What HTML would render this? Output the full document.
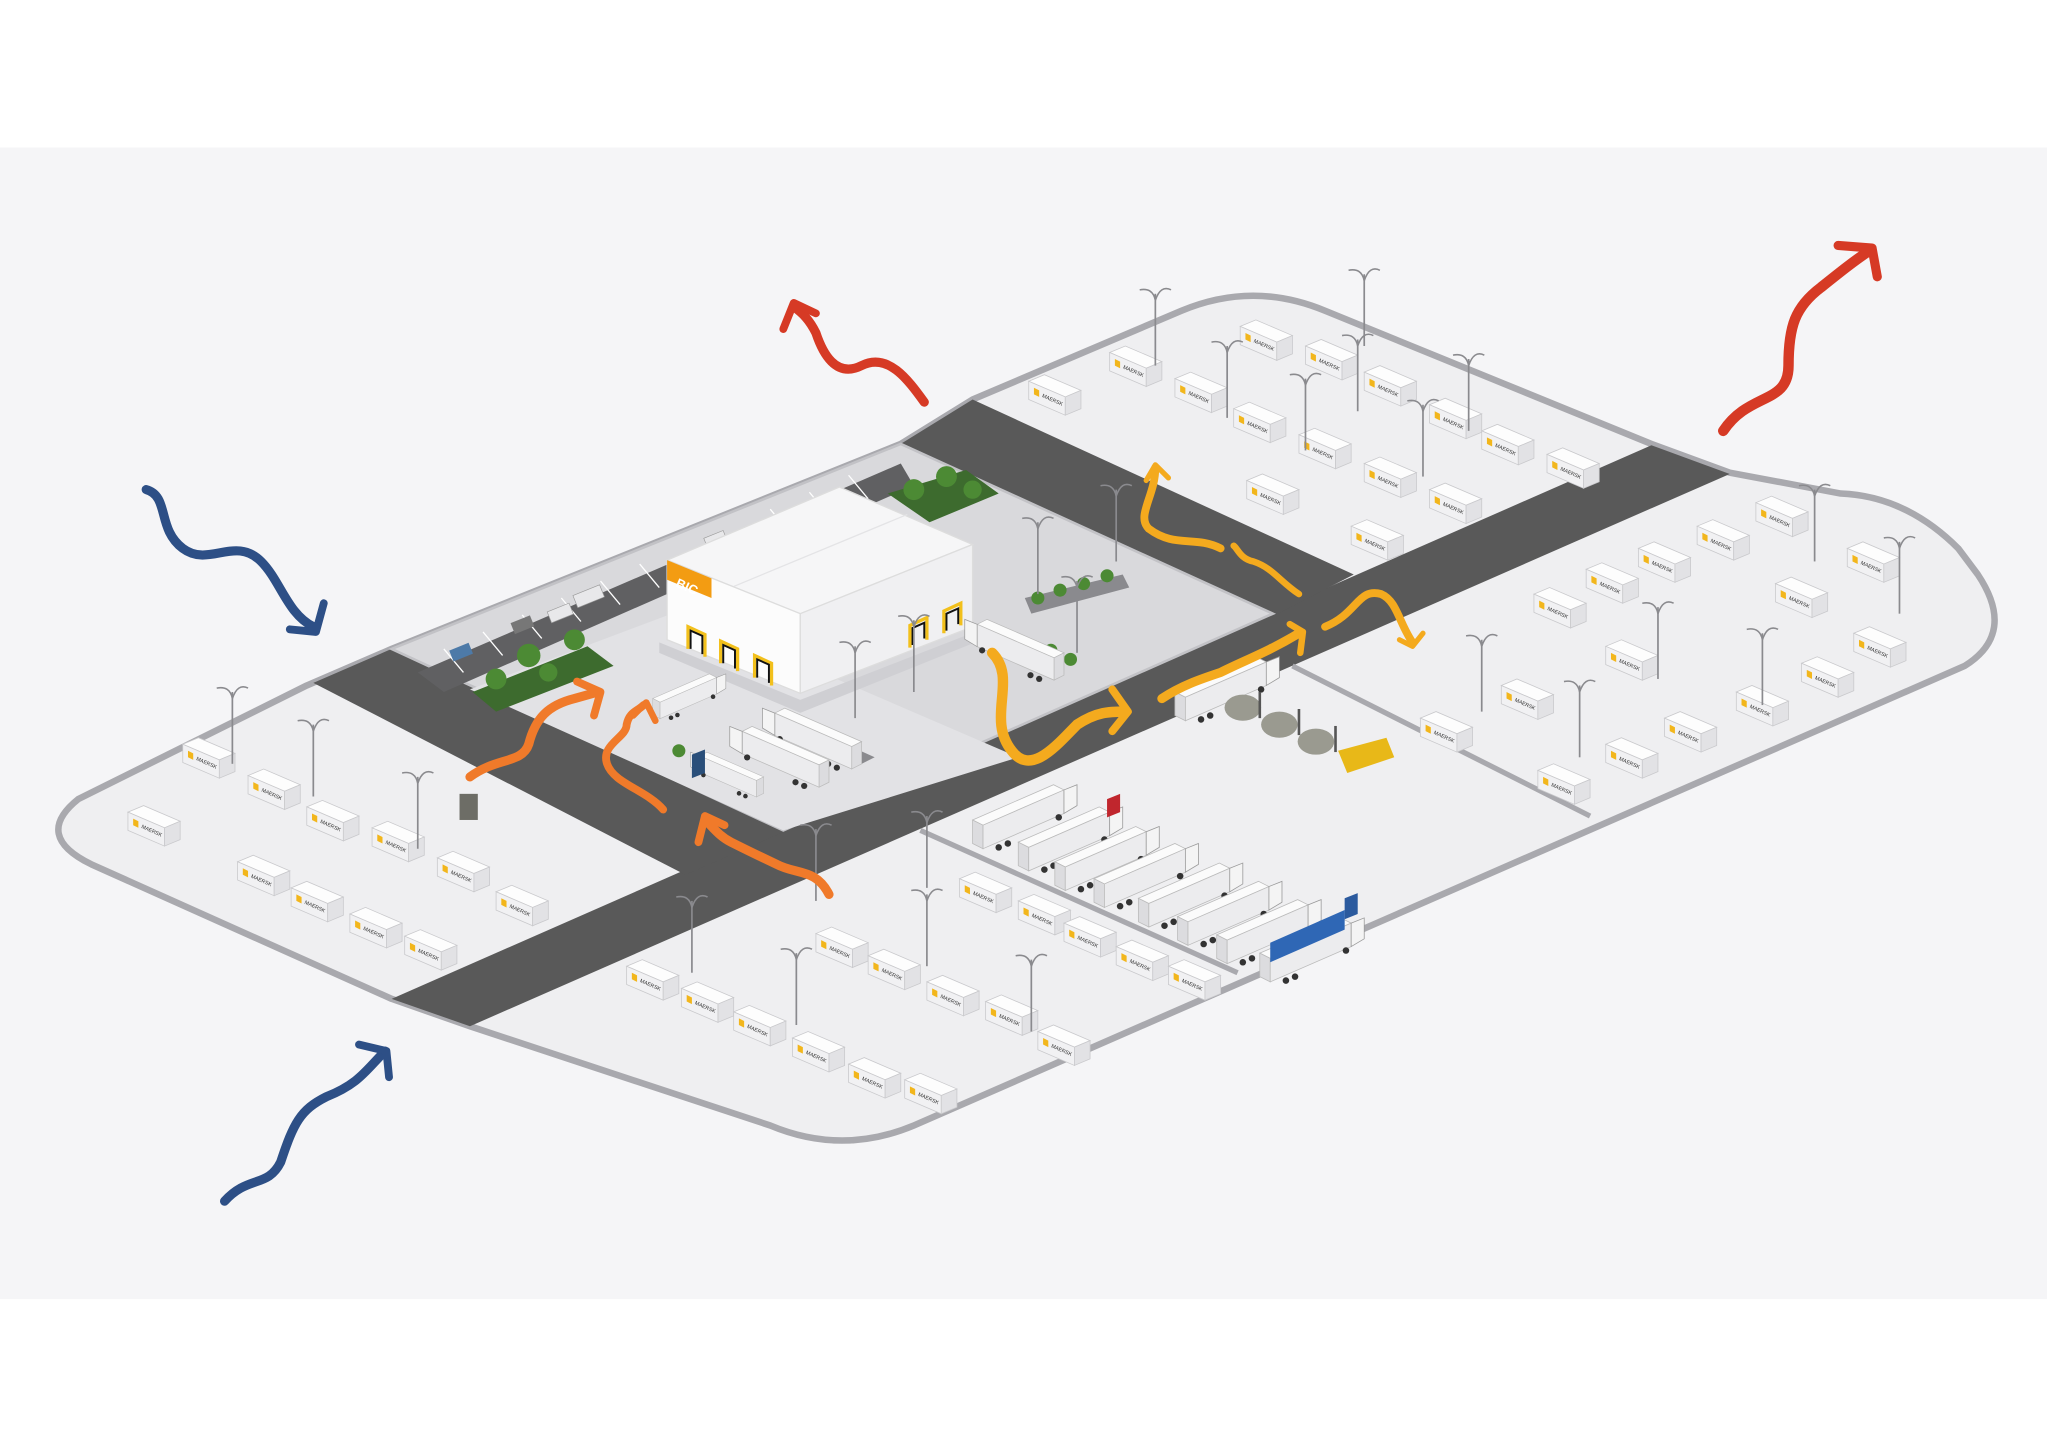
<!DOCTYPE html>
<html><head><meta charset="utf-8"><style>html,body{margin:0;padding:0;background:#fff;}svg{display:block}</style></head>
<body>
<svg width="2047" height="1448" viewBox="0 0 1568 1109" preserveAspectRatio="none" xmlns="http://www.w3.org/2000/svg" font-family="Liberation Sans, sans-serif">
<defs>
<g id="ct">
 <polygon points="0,0 12,-5 40,7 28,12" fill="#fdfdfd" stroke="#c9c9cc" stroke-width="0.6"/>
 <polygon points="0,0 28,12 28,26 0,14" fill="#f1f1f3" stroke="#c9c9cc" stroke-width="0.6"/>
 <polygon points="28,12 40,7 40,21 28,26" fill="#e2e2e5" stroke="#c9c9cc" stroke-width="0.6"/>
 <polygon points="4,5 8,7 8,12 4,10" fill="#f2b61c"/>
 <text x="10" y="12" font-size="4" fill="#333" transform="rotate(24 10 12)">MAERSK</text>
</g>
<g id="tr">
 <polygon points="0,0 62,-27 70,-23 8,4" fill="#fbfbfb" stroke="#bbb" stroke-width="0.6"/>
 <polygon points="0,0 8,4 8,22 0,18" fill="#dcdcdf" stroke="#bbb" stroke-width="0.6"/>
 <polygon points="8,4 70,-23 70,-5 8,22" fill="#ececee" stroke="#bbb" stroke-width="0.6"/>
 <polygon points="70,-23 80,-27 80,-11 70,-5" fill="#f4f4f4" stroke="#999" stroke-width="0.6"/>
 <circle cx="20" cy="21" r="2.5" fill="#333"/><circle cx="27" cy="18" r="2.5" fill="#333"/><circle cx="66" cy="-2" r="2.5" fill="#333"/>
</g>
<g id="lp">
 <line x1="0" y1="0" x2="0" y2="-55" stroke="#8a8a8e" stroke-width="1.3"/>
 <path d="M0,-50 Q-2,-60 -12,-58 M0,-50 Q4,-62 12,-58" stroke="#8a8a8e" stroke-width="1.2" fill="none"/>
</g>
</defs>

<rect x="0" y="0" width="1568" height="1109" fill="#ffffff"/>
<rect x="0" y="113" width="1568" height="882" fill="#f5f5f7"/>

<path d="M235,525 L300,497 L690,340 L745,306 L905,238 Q960,215 1015,238 L1265,340 L1325,362 L1410,378 Q1460,380 1500,420 L1515,440 Q1545,485 1505,510 L700,862 Q645,885 590,862 L360,786 L300,765 L70,662 Q25,640 60,612 Z" fill="#efeff1" stroke="#a9a9ae" stroke-width="5" stroke-linejoin="round"/>

<g fill="#595959">
 <polygon points="300,765 1265,341 1325,363 360,786"/>
 <polygon points="240,523 300,497 603,636 525,670"/>
 <polygon points="690,340 745,306 1037,440 975,472"/>
</g>

<polygon points="300,497 690,340 975,470 600,636" fill="#d9d9dc" stroke="#c2c2c6" stroke-width="2"/>
<polygon points="360,528 520,468 780,580 600,636" fill="#e2e2e5"/>
<polygon points="320,515 690,355 700,372 340,530" fill="#606062"/>
<g stroke="#fff" stroke-width="1">
 <line x1="340" y1="497" x2="355" y2="515"/><line x1="370" y1="484" x2="385" y2="502"/><line x1="400" y1="471" x2="415" y2="489"/><line x1="430" y1="458" x2="445" y2="476"/><line x1="460" y1="445" x2="475" y2="463"/><line x1="490" y1="432" x2="505" y2="450"/><line x1="590" y1="390" x2="605" y2="408"/><line x1="620" y1="377" x2="635" y2="395"/><line x1="650" y1="364" x2="665" y2="382"/>
</g>
<polygon points="362,530 450,495 470,510 380,545" fill="#3d6b2e"/>
<polygon points="680,378 740,360 765,378 712,400" fill="#3d6b2e"/>
<polygon points="785,458 860,440 865,450 790,470" fill="#8a8a8e"/>
<polygon points="600,560 660,585 670,580 610,553" fill="#8a8a8e"/>
<g fill="#4c8a34">
 <circle cx="380" cy="520" r="8"/><circle cx="405" cy="502" r="9"/><circle cx="440" cy="490" r="8"/><circle cx="420" cy="515" r="7"/>
 <circle cx="700" cy="375" r="8"/><circle cx="725" cy="365" r="8"/><circle cx="745" cy="375" r="7"/>
 <circle cx="795" cy="458" r="5"/><circle cx="812" cy="452" r="5"/><circle cx="830" cy="447" r="5"/><circle cx="848" cy="441" r="5"/>
 <circle cx="608" cy="556" r="5"/><circle cx="630" cy="566" r="5"/><circle cx="652" cy="576" r="5"/>
 <circle cx="520" cy="575" r="5"/><circle cx="805" cy="498" r="5"/><circle cx="820" cy="505" r="5"/>
</g>
<g fill="#e8e8ea" stroke="#999" stroke-width="0.5">
 <rect x="440" y="452" width="22" height="10" transform="rotate(-22 450 457)"/><rect x="420" y="465" width="18" height="9" transform="rotate(-22 429 469)"/>
 <rect x="540" y="409" width="16" height="8" transform="rotate(-22 548 413)"/>
</g>
<rect x="392" y="474" width="16" height="9" fill="#777" transform="rotate(-22 400 478)"/>
<rect x="345" y="495" width="16" height="9" fill="#4d7aa8" transform="rotate(-22 353 499)"/>

<!-- building -->
<polygon points="505,492 613,536 752,482 752,490 613,546 505,500" fill="#cfcfd3"/>
<polygon points="511,429 643,373 745,417 613,470" fill="#f6f6f7" stroke="#ddd" stroke-width="1"/>
<line x1="560" y1="450" x2="695" y2="394" stroke="#e4e4e6" stroke-width="1"/>
<polygon points="511,429 613,470 613,531 511,490" fill="#fcfcfc" stroke="#ddd" stroke-width="1"/>
<polygon points="613,470 745,417 745,480 613,531" fill="#f0f0f2" stroke="#ddd" stroke-width="1"/>
<polygon points="511,429 545,443 545,458 511,444" fill="#f39c12"/>
<text x="517" y="449" font-size="10" font-weight="bold" fill="#fff" transform="rotate(24 517 449)">BIC</text>
<g fill="none" stroke="#f2c01c" stroke-width="2.5">
 <path d="M527,497 L527,480 L540,486 L540,503"/><path d="M552,508 L552,491 L565,497 L565,514"/><path d="M578,519 L578,502 L591,508 L591,525"/>
 <path d="M697,496 L697,479 L710,473 L710,490"/><path d="M723,485 L723,468 L736,462 L736,479"/>
</g>
<g fill="none" stroke="#111" stroke-width="1.5"><path d="M529,497 L529,483 L538,487 L538,501"/><path d="M554,508 L554,494 L563,498 L563,512"/><path d="M580,519 L580,505 L589,509 L589,523"/><path d="M699,494 L699,481 L708,477 L708,489"/><path d="M725,483 L725,470 L734,466 L734,478"/></g>

<!-- trucks center -->
<use href="#tr" transform="translate(500,535) scale(0.7)"/>
<use href="#tr" transform="translate(815,500) scale(-0.95,0.95)"/>
<use href="#tr" transform="translate(660,568) scale(-0.95,0.95)"/>
<use href="#tr" transform="translate(635,582) scale(-0.95,0.95)"/>
<use href="#tr" transform="translate(585,595) scale(-0.7,0.7)"/>
<polygon points="530,578 540,574 540,592 530,596" fill="#2a4f7a"/>
<use href="#tr" x="900" y="530"/>

<line x1="705" y1="636" x2="948" y2="745" stroke="#a9a9ae" stroke-width="4"/>
<line x1="990" y1="510" x2="1218" y2="625" stroke="#a9a9ae" stroke-width="4"/>
<use href="#tr" x="745" y="628"/>
<use href="#tr" x="780" y="645"/>
<use href="#tr" x="808" y="660"/>
<use href="#tr" x="838" y="673"/>
<use href="#tr" x="872" y="688"/>
<use href="#tr" x="902" y="702"/>
<use href="#tr" x="932" y="716"/>
<use href="#tr" x="965" y="730"/>
<polygon points="848,612 858,608 858,622 848,626" fill="#c0262d"/>
<polygon points="1030,688 1040,684 1040,700 1030,704" fill="#2b5a9e"/>
<polygon points="973,722 1030,697 1030,712 973,737" fill="#2f67b5"/>
<g fill="#9a9a90"><ellipse cx="952" cy="542" rx="14" ry="10"/><ellipse cx="980" cy="555" rx="14" ry="10"/><ellipse cx="1008" cy="568" rx="14" ry="10"/></g>
<g stroke="#555" stroke-width="2"><line x1="965" y1="530" x2="965" y2="550"/><line x1="995" y1="543" x2="995" y2="563"/><line x1="1023" y1="556" x2="1023" y2="576"/></g>
<polygon points="1025,575 1062,565 1068,580 1032,592" fill="#e8b818"/>
<rect x="352" y="608" width="14" height="20" fill="#6d6d66"/>

<g>
<use href="#ct" x="140" y="570"/><use href="#ct" x="190" y="594"/><use href="#ct" x="235" y="618"/><use href="#ct" x="98" y="622"/>
<use href="#ct" x="285" y="634"/><use href="#ct" x="182" y="660"/><use href="#ct" x="335" y="657"/><use href="#ct" x="223" y="680"/>
<use href="#ct" x="268" y="700"/><use href="#ct" x="380" y="683"/><use href="#ct" x="310" y="717"/>
</g>
<g>
<use href="#ct" x="850" y="270"/><use href="#ct" x="900" y="290"/><use href="#ct" x="788" y="292"/><use href="#ct" x="950" y="250"/>
<use href="#ct" x="1000" y="265"/><use href="#ct" x="1045" y="285"/><use href="#ct" x="945" y="313"/><use href="#ct" x="995" y="333"/>
<use href="#ct" x="1095" y="310"/><use href="#ct" x="1135" y="330"/><use href="#ct" x="1045" y="355"/><use href="#ct" x="955" y="368"/>
<use href="#ct" x="1095" y="375"/><use href="#ct" x="1185" y="348"/><use href="#ct" x="1035" y="403"/>
</g>
<g>
<use href="#ct" x="1345" y="385"/><use href="#ct" x="1415" y="420"/><use href="#ct" x="1300" y="403"/><use href="#ct" x="1255" y="420"/>
<use href="#ct" x="1215" y="436"/><use href="#ct" x="1175" y="455"/><use href="#ct" x="1360" y="447"/><use href="#ct" x="1230" y="495"/>
<use href="#ct" x="1150" y="525"/><use href="#ct" x="1330" y="530"/><use href="#ct" x="1275" y="550"/><use href="#ct" x="1088" y="550"/>
<use href="#ct" x="1380" y="508"/><use href="#ct" x="1420" y="485"/><use href="#ct" x="1230" y="570"/><use href="#ct" x="1178" y="590"/>
</g>
<g>
<use href="#ct" x="735" y="673"/><use href="#ct" x="780" y="690"/><use href="#ct" x="625" y="715"/><use href="#ct" x="665" y="732"/>
<use href="#ct" x="480" y="740"/><use href="#ct" x="522" y="757"/><use href="#ct" x="562" y="775"/><use href="#ct" x="607" y="795"/>
<use href="#ct" x="710" y="752"/><use href="#ct" x="755" y="767"/><use href="#ct" x="815" y="707"/><use href="#ct" x="855" y="725"/>
<use href="#ct" x="895" y="740"/><use href="#ct" x="650" y="815"/><use href="#ct" x="693" y="827"/><use href="#ct" x="795" y="790"/>
</g>
<g>
<use href="#lp" x="178" y="585"/><use href="#lp" x="240" y="610"/><use href="#lp" x="320" y="650"/>
<use href="#lp" x="885" y="280"/><use href="#lp" x="940" y="320"/><use href="#lp" x="1000" y="345"/><use href="#lp" x="1040" y="315"/><use href="#lp" x="1090" y="365"/><use href="#lp" x="1125" y="330"/><use href="#lp" x="1045" y="265"/>
<use href="#lp" x="1135" y="545"/><use href="#lp" x="1210" y="580"/><use href="#lp" x="1270" y="520"/><use href="#lp" x="1350" y="540"/><use href="#lp" x="1390" y="430"/><use href="#lp" x="1455" y="470"/>
<use href="#lp" x="795" y="455"/><use href="#lp" x="855" y="430"/><use href="#lp" x="655" y="550"/><use href="#lp" x="700" y="530"/><use href="#lp" x="825" y="500"/>
<use href="#lp" x="530" y="745"/><use href="#lp" x="610" y="785"/><use href="#lp" x="710" y="740"/><use href="#lp" x="790" y="790"/><use href="#lp" x="625" y="690"/><use href="#lp" x="710" y="680"/>
</g>

<g fill="none" stroke-linecap="round" stroke-linejoin="round">
 <path d="M112,375 C130,380 120,405 140,420 C160,435 180,410 200,430 C215,445 220,470 240,480" stroke="#2d4f86" stroke-width="7"/>
 <polyline points="222,482 242,484 248,462" stroke="#2d4f86" stroke-width="6"/>
 <path d="M172,920 C190,900 205,910 215,890 C225,860 230,850 250,840 C275,830 280,820 295,805" stroke="#2d4f86" stroke-width="7"/>
 <polyline points="275,800 296,805 298,825" stroke="#2d4f86" stroke-width="6"/>
 <path d="M708,308 C695,290 680,270 660,280 C640,290 630,270 625,255 C620,245 615,240 608,235" stroke="#d63a25" stroke-width="7"/>
 <polyline points="600,252 608,232 625,240" stroke="#d63a25" stroke-width="6"/>
 <path d="M1320,330 C1340,300 1370,310 1370,280 C1370,250 1375,235 1395,220 C1410,208 1420,200 1432,192" stroke="#d63a25" stroke-width="8"/>
 <polyline points="1408,188 1434,190 1438,212" stroke="#d63a25" stroke-width="7"/>
 <path d="M360,595 C380,580 400,585 405,570 C410,550 420,540 440,535 L458,530" stroke="#f07a2a" stroke-width="7"/>
 <polyline points="442,522 460,530 455,548" stroke="#f07a2a" stroke-width="6"/>
 <path d="M508,620 C495,605 470,600 465,585 C460,570 480,565 480,555 C482,545 488,545 493,540" stroke="#f07a2a" stroke-width="6"/>
 <polyline points="485,548 495,538 502,552" stroke="#f07a2a" stroke-width="5"/>
 <path d="M635,685 C625,665 610,670 595,662 C580,655 570,650 560,645 C550,640 545,632 540,628" stroke="#f07a2a" stroke-width="7"/>
 <polyline points="535,645 540,625 555,632" stroke="#f07a2a" stroke-width="6"/>
 <path d="M760,500 C780,520 755,550 775,575 C790,595 810,570 825,555 C840,545 850,545 862,545" stroke="#f4aa1e" stroke-width="8"/>
 <polyline points="852,528 864,545 852,560" stroke="#f4aa1e" stroke-width="6"/>
 <path d="M890,535 C905,525 920,520 935,515 C955,505 970,500 995,485" stroke="#f4aa1e" stroke-width="7"/>
 <polyline points="988,478 998,484 996,500" stroke="#f4aa1e" stroke-width="5"/>
 <path d="M935,420 C915,410 900,420 880,405 C870,395 885,380 885,358" stroke="#f4aa1e" stroke-width="6"/>
 <polyline points="878,368 885,356 895,366" stroke="#f4aa1e" stroke-width="4"/>
 <path d="M995,455 C980,445 975,435 960,430 C950,428 948,420 945,418" stroke="#f4aa1e" stroke-width="5"/>
 <path d="M1015,480 C1040,470 1040,450 1058,455 C1070,460 1072,478 1082,492" stroke="#f4aa1e" stroke-width="6"/>
 <polyline points="1072,490 1082,495 1090,485" stroke="#f4aa1e" stroke-width="4"/>
</g>
</svg>
</body></html>
